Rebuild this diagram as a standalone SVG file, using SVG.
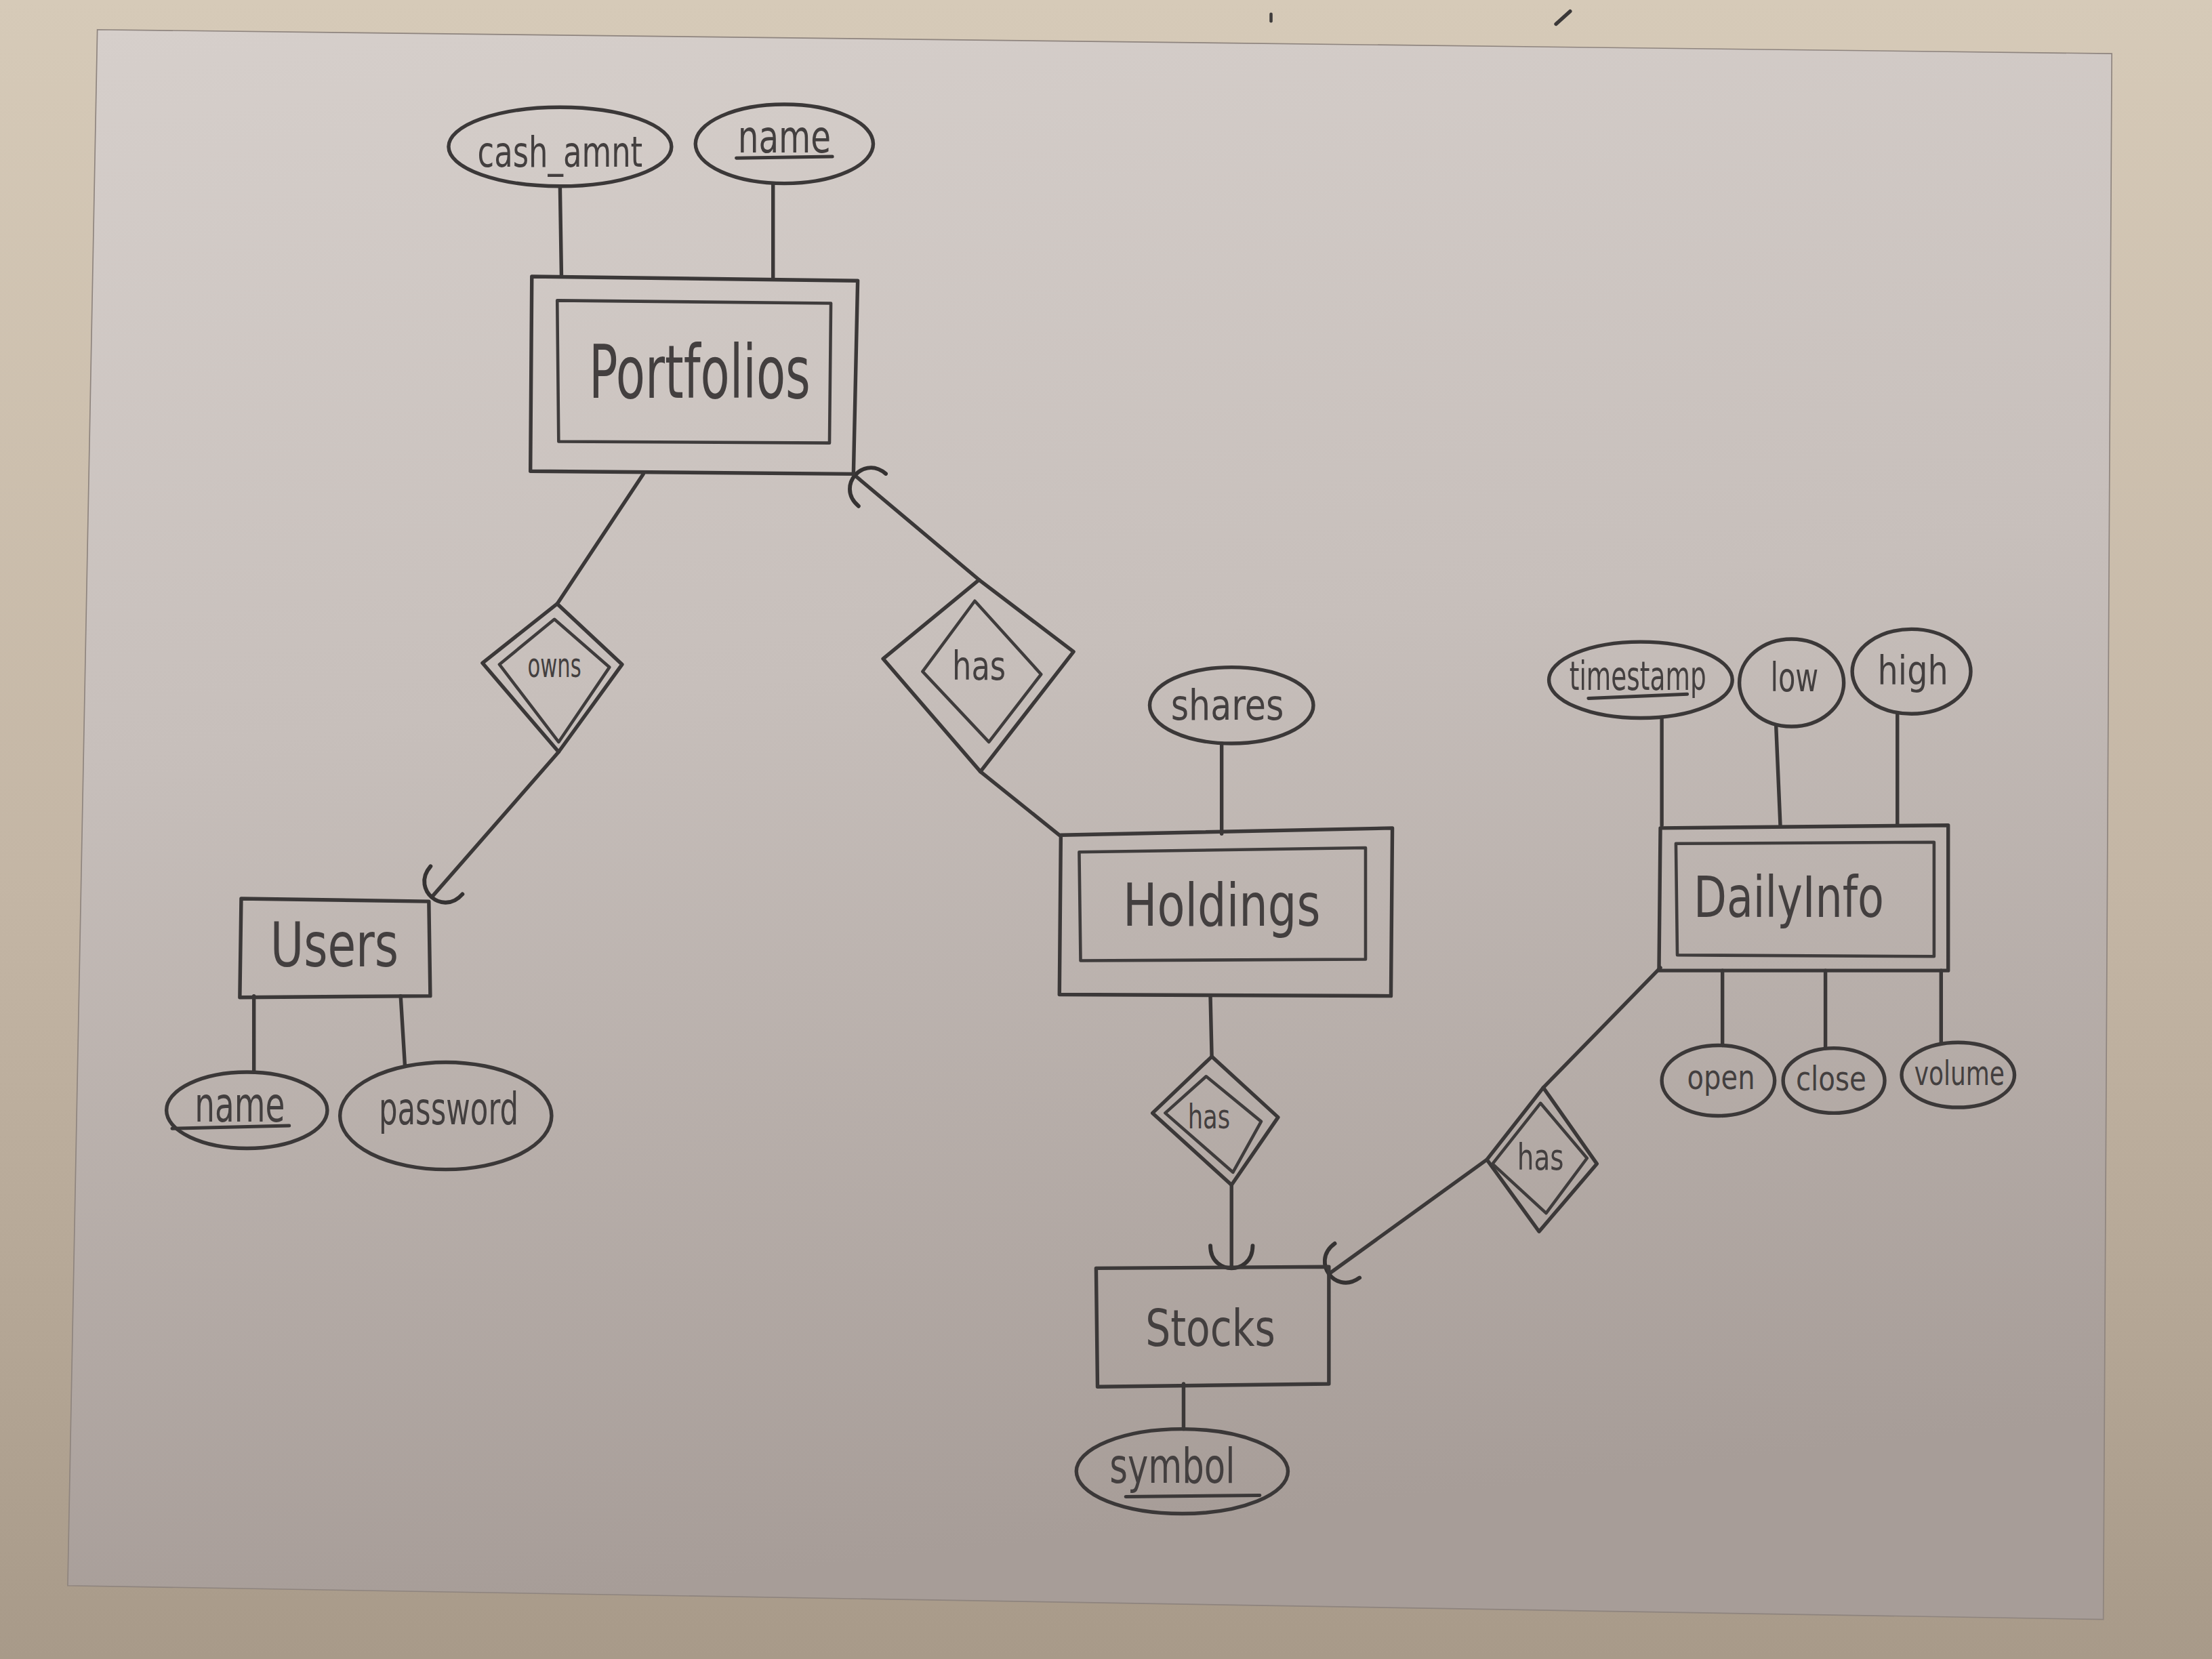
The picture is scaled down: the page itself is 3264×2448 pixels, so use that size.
<svg xmlns="http://www.w3.org/2000/svg" width="3264" height="2448" viewBox="0 0 3264 2448">
  <defs>
    <linearGradient id="desk" x1="0" y1="0" x2="0" y2="1">
      <stop offset="0" stop-color="#d6cab8"/>
      <stop offset="0.55" stop-color="#c3b5a4"/>
      <stop offset="1" stop-color="#a89a89"/>
    </linearGradient>
    <linearGradient id="sheet" x1="0" y1="0" x2="0.15" y2="1">
      <stop offset="0" stop-color="#d6cfcb"/>
      <stop offset="0.45" stop-color="#c7bfbb"/>
      <stop offset="1" stop-color="#a79d98"/>
    </linearGradient>
    <marker id="hook" viewBox="-24 -24 48 48" markerWidth="48" markerHeight="48" refX="0" refY="0" orient="auto" markerUnits="userSpaceOnUse" overflow="visible">
      <path d="M -16,-15 C -4,-15 0,-6 0,0 C 0,6 -4,15 -16,15" fill="none" stroke="#353232" stroke-width="2.8" stroke-linecap="round"/>
    </marker>
    <style>
      .pen { fill: none; stroke: #3b3838; stroke-width: 2.6; stroke-linejoin: round; stroke-linecap: round; }
      .pen2 { fill: none; stroke: #3f3c3c; stroke-width: 2.2; stroke-linejoin: round; stroke-linecap: round; }
      .lbl { font-family: "Liberation Sans Narrow", "DejaVu Sans Condensed", "Liberation Sans", sans-serif; fill: #433f3f; text-anchor: middle; }
      .ul { fill: none; stroke: #3b3838; stroke-width: 2.4; stroke-linecap: round; }
    </style>
  </defs>

  <!-- desk surface and sheet of paper -->
  <rect x="0" y="0" width="3264" height="2448" fill="url(#desk)"/>
  <g transform="scale(2.0816)">
    <path d="M69,21 L1497,38 L1491,1148 L48,1124 Z" fill="url(#sheet)" stroke="#8e847e" stroke-width="0.8"/>

    <!-- stray pencil marks near the top edge -->
    <path class="pen2" d="M901,10 L901,15"/>
    <path class="pen" d="M1103,17 L1113,8"/>

    <!-- relationship lines -->
    <g id="connectors">
      <path class="pen" d="M397,133 L398,196"/>
      <path class="pen" d="M548,130 L548,198"/>
      <path class="pen" d="M456,336 L395,428"/>
      <path class="pen" d="M396,533 L306,636" marker-end="url(#hook)"/>
      <path class="pen" d="M694,411 L606,337" marker-end="url(#hook)"/>
      <path class="pen" d="M695,547 L751,592"/>
      <path class="pen" d="M866,527 L866,591"/>
      <path class="pen" d="M180,706 L180,760"/>
      <path class="pen" d="M284,706 L287,755"/>
      <path class="pen" d="M858,706 L859,749"/>
      <path class="pen" d="M873,840 L873,899" marker-end="url(#hook)"/>
      <path class="pen" d="M839,981 L839,1013"/>
      <path class="pen" d="M1177,686 L1094,771"/>
      <path class="pen" d="M1054,822 L942,903" marker-end="url(#hook)"/>
      <path class="pen" d="M1178,509 L1178,585"/>
      <path class="pen" d="M1259,515 L1262,585"/>
      <path class="pen" d="M1345,506 L1345,585"/>
      <path class="pen" d="M1221,688 L1221,741"/>
      <path class="pen" d="M1294,688 L1294,743"/>
      <path class="pen" d="M1376,688 L1376,739"/>
    </g>

    <!-- entities -->
    <g id="portfolios">
      <path class="pen" d="M377,196 L608,199 L605,336 L376,334 Z"/>
      <path class="pen2" d="M395,213 L589,215 L588,314 L396,313 Z"/>
      <text class="lbl" x="496" y="282" font-size="52" textLength="157" lengthAdjust="spacingAndGlyphs">Portfolios</text>
    </g>

    <g id="attr-cash-amnt">
      <ellipse class="pen" cx="397" cy="104" rx="79" ry="28"/>
      <text class="lbl" x="397" y="118" font-size="30" textLength="117" lengthAdjust="spacingAndGlyphs">cash_amnt</text>
    </g>

    <g id="attr-portfolio-name">
      <ellipse class="pen" cx="556" cy="102" rx="63" ry="28"/>
      <text class="lbl" x="556" y="108" font-size="32" textLength="66" lengthAdjust="spacingAndGlyphs">name</text>
      <path class="ul" d="M522,112 L590,111"/>
    </g>

    <g id="users">
      <path class="pen" d="M171,637 L304,639 L305,706 L170,707 Z"/>
      <text class="lbl" x="237" y="685" font-size="44" textLength="91" lengthAdjust="spacingAndGlyphs">Users</text>
    </g>

    <g id="attr-user-name">
      <ellipse class="pen" cx="175" cy="787" rx="57" ry="27"/>
      <text class="lbl" x="170" y="795" font-size="34" textLength="64" lengthAdjust="spacingAndGlyphs">name</text>
      <path class="ul" d="M122,800 L205,798"/>
    </g>

    <g id="attr-password">
      <ellipse class="pen" cx="316" cy="791" rx="75" ry="38"/>
      <text class="lbl" x="318" y="797" font-size="32" textLength="99" lengthAdjust="spacingAndGlyphs">password</text>
    </g>

    <g id="rel-owns">
      <path class="pen" d="M395,428 L441,471 L396,533 L342,470 Z"/>
      <path class="pen2" d="M393,439 L432,473 L396,526 L354,471 Z"/>
      <text class="lbl" x="393" y="480" font-size="24" textLength="38" lengthAdjust="spacingAndGlyphs">owns</text>
    </g>

    <g id="rel-has-holdings">
      <path class="pen" d="M694,411 L761,462 L695,547 L626,467 Z"/>
      <path class="pen2" d="M691,426 L738,478 L701,526 L654,476 Z"/>
      <text class="lbl" x="694" y="482" font-size="28" textLength="38" lengthAdjust="spacingAndGlyphs">has</text>
    </g>

    <g id="holdings">
      <path class="pen" d="M752,592 L987,587 L986,706 L751,705 Z"/>
      <path class="pen2" d="M765,604 L968,601 L968,680 L766,681 Z"/>
      <text class="lbl" x="866" y="656" font-size="42" textLength="140" lengthAdjust="spacingAndGlyphs">Holdings</text>
    </g>

    <g id="attr-shares">
      <ellipse class="pen" cx="873" cy="500" rx="58" ry="27"/>
      <text class="lbl" x="870" y="510" font-size="30" textLength="80" lengthAdjust="spacingAndGlyphs">shares</text>
    </g>

    <g id="rel-has-stock">
      <path class="pen" d="M859,749 L906,792 L873,840 L817,789 Z"/>
      <path class="pen2" d="M855,763 L894,795 L874,831 L826,789 Z"/>
      <text class="lbl" x="857" y="800" font-size="24" textLength="30" lengthAdjust="spacingAndGlyphs">has</text>
    </g>

    <g id="stocks">
      <path class="pen" d="M777,899 L942,898 L942,981 L778,983 Z"/>
      <text class="lbl" x="858" y="954" font-size="36" textLength="92" lengthAdjust="spacingAndGlyphs">Stocks</text>
    </g>

    <g id="attr-symbol">
      <ellipse class="pen" cx="838" cy="1043" rx="75" ry="30"/>
      <text class="lbl" x="831" y="1051" font-size="34" textLength="89" lengthAdjust="spacingAndGlyphs">symbol</text>
      <path class="ul" d="M798,1061 L893,1060"/>
    </g>

    <g id="dailyinfo">
      <path class="pen" d="M1177,587 L1381,585 L1381,688 L1176,688 Z"/>
      <path class="pen2" d="M1188,598 L1371,597 L1371,678 L1189,677 Z"/>
      <text class="lbl" x="1268" y="650" font-size="40" textLength="135" lengthAdjust="spacingAndGlyphs">DailyInfo</text>
    </g>

    <g id="attr-timestamp">
      <ellipse class="pen" cx="1163" cy="482" rx="65" ry="27"/>
      <text class="lbl" x="1161" y="489" font-size="28" textLength="97" lengthAdjust="spacingAndGlyphs">timestamp</text>
      <path class="ul" d="M1126,495 L1196,492"/>
    </g>

    <g id="attr-low">
      <ellipse class="pen" cx="1270" cy="484" rx="37" ry="31"/>
      <text class="lbl" x="1272" y="490" font-size="28" textLength="34" lengthAdjust="spacingAndGlyphs">low</text>
    </g>

    <g id="attr-high">
      <ellipse class="pen" cx="1355" cy="476" rx="42" ry="30"/>
      <text class="lbl" x="1356" y="485" font-size="28" textLength="50" lengthAdjust="spacingAndGlyphs">high</text>
    </g>

    <g id="attr-open">
      <ellipse class="pen" cx="1218" cy="766" rx="40" ry="25"/>
      <text class="lbl" x="1220" y="772" font-size="24" textLength="48" lengthAdjust="spacingAndGlyphs">open</text>
    </g>

    <g id="attr-close">
      <ellipse class="pen" cx="1300" cy="766" rx="36" ry="23"/>
      <text class="lbl" x="1298" y="773" font-size="24" textLength="50" lengthAdjust="spacingAndGlyphs">close</text>
    </g>

    <g id="attr-volume">
      <ellipse class="pen" cx="1388" cy="762" rx="40" ry="23"/>
      <text class="lbl" x="1389" y="769" font-size="24" textLength="64" lengthAdjust="spacingAndGlyphs">volume</text>
    </g>

    <g id="rel-has-daily">
      <path class="pen" d="M1094,771 L1132,825 L1091,873 L1054,822 Z"/>
      <path class="pen2" d="M1092,782 L1125,821 L1096,860 L1058,825 Z"/>
      <text class="lbl" x="1092" y="829" font-size="26" textLength="33" lengthAdjust="spacingAndGlyphs">has</text>
    </g>
  </g>
</svg>
